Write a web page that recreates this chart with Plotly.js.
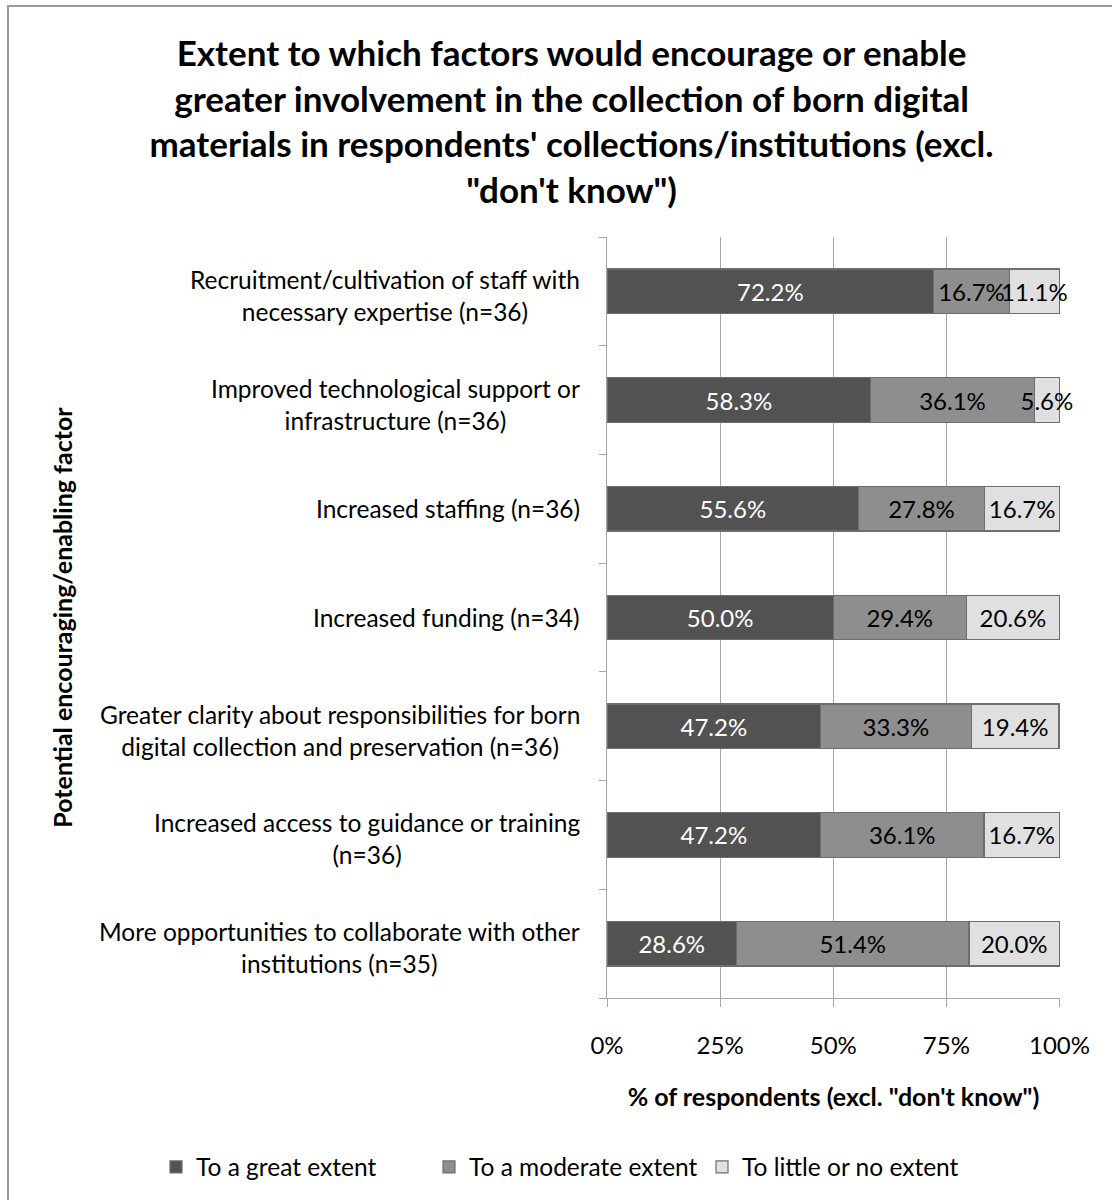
<!DOCTYPE html>
<html>
<head>
<meta charset="utf-8">
<script src="https://cdn.plot.ly/plotly-3.0.1.min.js"></script>
<style>
  body { margin: 0; padding: 0; background: #fff; }
  #chart { position: absolute; left: 0; top: 0; width: 1112px; height: 1200px; }
  #frame { position: absolute; left: 7px; top: 5px; width: 1120px; height: 1210px; border: 2px solid #999; pointer-events: none; box-sizing: border-box; }
</style>
</head>
<body>
<div id="chart"></div>
<div id="frame"></div>
<script>
const categories = [
  "Recruitment/cultivation of staff with<br>necessary expertise (n=36)",
  "Improved technological support or<br>infrastructure (n=36)",
  "Increased staffing (n=36)",
  "Increased funding (n=34)",
  "Greater clarity about responsibilities for born<br>digital collection and preservation (n=36)",
  "Increased access to guidance or training<br>(n=36)",
  "More opportunities to collaborate with other<br>institutions (n=35)"
];
const greatExtent    = [72.2, 58.3, 55.6, 50.0, 47.2, 47.2, 28.6];
const moderateExtent = [16.7, 36.1, 27.8, 29.4, 33.3, 36.1, 51.4];
const littleExtent   = [11.1, 5.6, 16.7, 20.6, 19.4, 16.7, 20.0];
const seriesNames = ["To a great extent", "To a moderate extent", "To little or no extent"];
const xTickVals = [0, 25, 50, 75, 100];
const xTickText = ["0%", "25%", "50%", "75%", "100%"];

const FONT = "Lato, 'Open Sans', sans-serif";
const colors = ["#525252", "#8e8e8e", "#e0e0e0"];
const textColors = ["#ffffff", "#000000", "#000000"];
const seriesVals = [greatExtent, moderateExtent, littleExtent];

const traces = seriesVals.map((vals, i) => ({
  type: "bar",
  orientation: "h",
  name: seriesNames[i],
  x: vals,
  y: categories,
  marker: { color: colors[i], line: { color: "#6e6e6e", width: 1.2 } },
  texttemplate: "%{x:.1f}%",
  textposition: "inside",
  insidetextanchor: "middle",
  constraintext: "none",
  cliponaxis: false,
  textangle: 0,
  textfont: { family: FONT, size: 24, color: textColors[i] },
  hoverinfo: "x+y+name"
}));

// invisible helper trace to carry the boundary-tick axis
traces.push({
  type: "scatter", x: [0], y: [0], yaxis: "y2", mode: "markers",
  marker: { opacity: 0 }, showlegend: false, hoverinfo: "skip"
});

const boundaryTicks = [];
for (let i = -0.5; i <= categories.length - 0.5; i += 1) boundaryTicks.push(i);

const annotations = categories.map(c => ({
  xref: "paper", yref: "y", x: -0.055, y: c,
  xanchor: "right", yanchor: "middle", align: "center",
  text: c, showarrow: false, yshift: c.indexOf("<br>") >= 0 ? -4 : 0,
  font: { family: FONT, size: 24.5, color: "#000" }
}));

const layout = {
  width: 1112, height: 1200,
  paper_bgcolor: "#ffffff", plot_bgcolor: "#ffffff",
  margin: { l: 607, r: 52, t: 237, b: 201 },
  barmode: "stack",
  bargap: 0.59,
  font: { family: FONT, color: "#000" },
  title: {
    text: "Extent to which factors would encourage or enable<br>greater involvement in the collection of born digital<br>materials in respondents' collections/institutions (excl.<br>\"don't know\")",
    font: { family: FONT, size: 35, color: "#000", weight: "bold" },
    xref: "container", x: 0.514, xanchor: "center",
    yref: "container", y: 1 - 66/1200, yanchor: "top"
  },
  xaxis: {
    range: [0, 100.11], tickvals: xTickVals, ticktext: xTickText,
    showgrid: true, gridcolor: "#a6a6a6", gridwidth: 1.3,
    zeroline: false, showline: true, linecolor: "#a6a6a6", linewidth: 1.3,
    ticks: "outside", ticklen: 8, tickcolor: "#a6a6a6", tickwidth: 1.3,
    ticklabelstandoff: 18,
    tickfont: { family: FONT, size: 24, color: "#000" },
    title: { text: "% of respondents (excl. \"don't know\")", standoff: 30,
      font: { family: FONT, size: 25, color: "#000", weight: "bold" } },
    fixedrange: true
  },
  yaxis: {
    type: "category", autorange: "reversed",
    showticklabels: false, ticks: "", showgrid: false, zeroline: false,
    showline: true, linecolor: "#a6a6a6", linewidth: 1.3,
    title: { text: "" }, fixedrange: true
  },
  yaxis2: {
    overlaying: "y", anchor: "x", side: "left",
    range: [categories.length - 0.5, -0.5],
    tickvals: boundaryTicks, showticklabels: false,
    ticks: "outside", ticklen: 7, tickcolor: "#a6a6a6", tickwidth: 1.3,
    showgrid: false, zeroline: false, showline: false, fixedrange: true
  },
  annotations: annotations.concat([{
    xref: "paper", yref: "paper", x: -1.205, y: 0.5,
    xanchor: "center", yanchor: "middle", textangle: -90,
    text: "Potential encouraging/enabling factor", showarrow: false,
    font: { family: FONT, size: 25, color: "#000", weight: "bold" }
  }]),
  legend: {
    orientation: "h", xref: "paper", x: (156 - 607) / 453, xanchor: "left",
    yref: "paper", y: (999 - 1167) / 762, yanchor: "middle",
    font: { family: FONT, size: 24.5, color: "#000" },
    traceorder: "normal", itemwidth: 30,
    entrywidth: 228, entrywidthmode: "pixels"
  },
  showlegend: true
};

Plotly.newPlot("chart", traces, layout, { displayModeBar: false, responsive: false });
</script>
</body>
</html>
